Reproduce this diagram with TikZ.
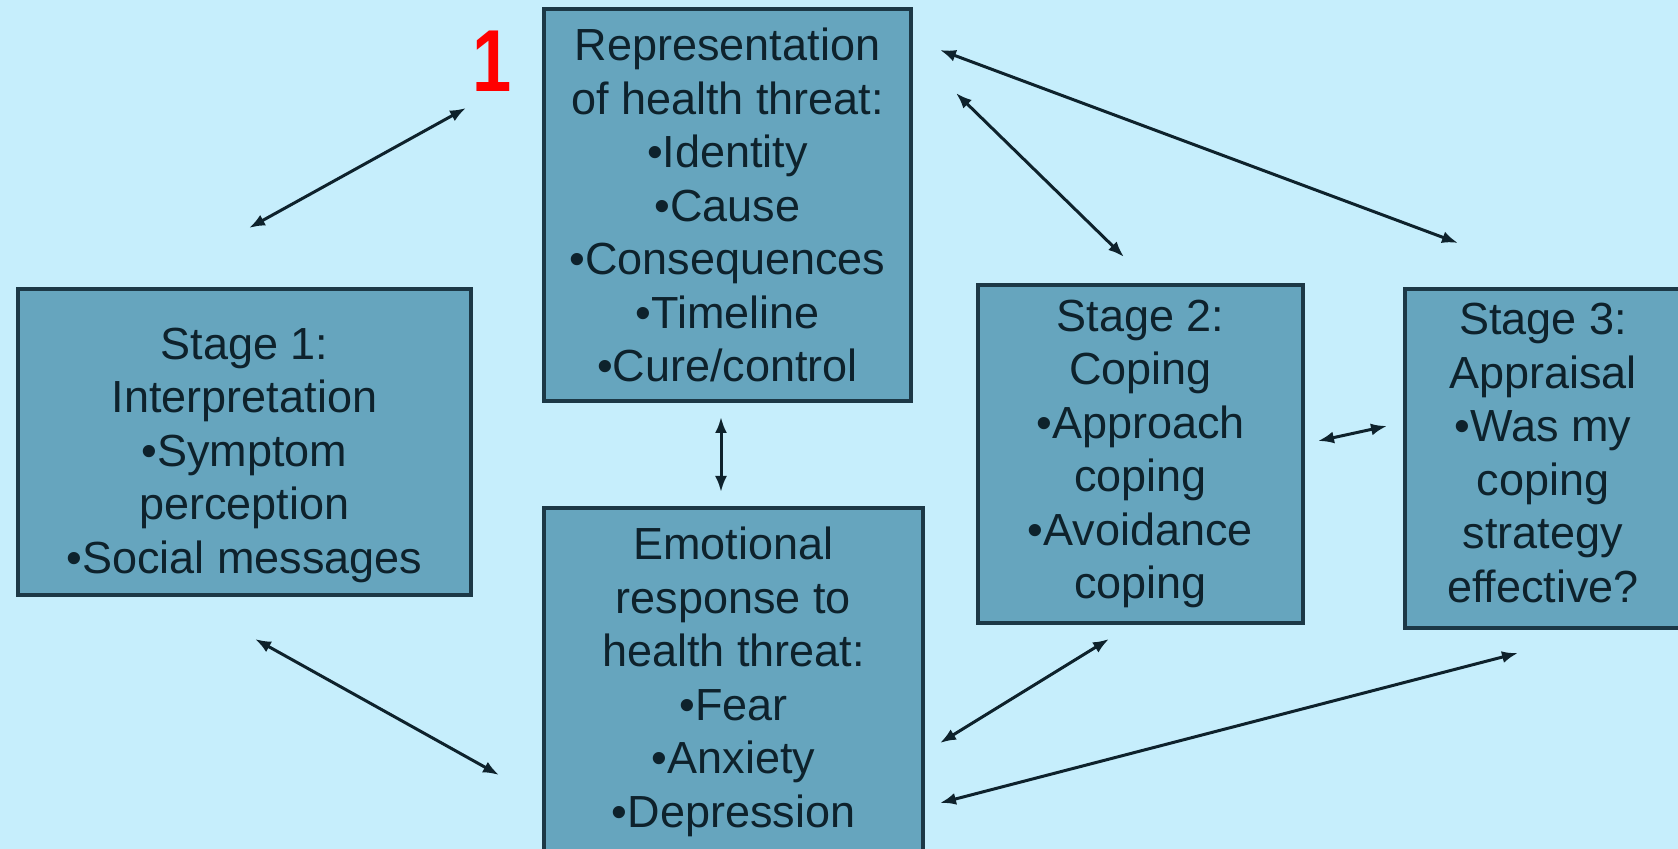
\documentclass[tikz,border=0pt]{standalone}
\usepackage{fontspec}
\setmainfont{Liberation Sans}
\usetikzlibrary{arrows.meta}
\definecolor{bgc}{RGB}{198,238,252}
\definecolor{boxc}{RGB}{102,165,190}
\definecolor{edgec}{RGB}{28,56,70}
\definecolor{txtc}{RGB}{14,34,44}
\tikzset{
  box/.style={draw=edgec, fill=boxc, line width=1.8pt, rectangle, inner sep=0pt,
    align=center, text=txtc, font=\fontsize{22.5pt}{26.75pt}\selectfont},
  boxtext/.style={inner sep=0pt, align=center, text=txtc, font=\fontsize{22.5pt}{26.75pt}\selectfont},
  link/.style={draw=txtc, line width=1.5pt, {Latex[length=8pt,width=6pt]}-{Latex[length=8pt,width=6pt]}}
}
\begin{document}
\begin{tikzpicture}[x=0.5pt,y=-0.5pt]
\fill[bgc] (0,0) rectangle (1678,849);
\useasboundingbox (0,0) rectangle (1678,849);

\node[box, minimum width=183.5pt, minimum height=196pt] (rep) at (727.5,205)
  {Representation\\of health threat:\\•Identity\\•Cause\\•Consequences\\•Timeline\\•Cure/control};
\node[box, minimum width=226.5pt, minimum height=153pt] (s1) at (244.5,442) {};
\node[boxtext] (s1t) at (244.5,455)
  {Stage 1:\\Interpretation\\•Symptom\\perception\\•Social messages};
\node[box, minimum width=189.5pt, minimum height=174pt] (emo) at (733.5,682)
  {Emotional\\response to\\health threat:\\•Fear\\•Anxiety\\•Depression};
\node[box, minimum width=162.5pt, minimum height=169pt] (s2) at (1140.5,454)
  {Stage 2:\\Coping\\•Approach\\coping\\•Avoidance\\coping};
\node[box, minimum width=140pt, minimum height=169.5pt] (s3) at (1545,458.5) {};
\node[boxtext] (s3t) at (1543,453)
  {Stage 3:\\Appraisal\\•Was my\\coping\\strategy\\effective?};

\node[text=red, font=\bfseries\fontsize{44pt}{44pt}\selectfont, inner sep=0pt, xscale=0.8] (num) at (492,61) {1};

\coordinate (a1) at (249,228); \coordinate (b1) at (466,108);
\coordinate (a2) at (940,50);  \coordinate (b2) at (1458,243);
\coordinate (a3) at (956,93);  \coordinate (b3) at (1124,257);
\coordinate (a4) at (721,417); \coordinate (b4) at (721,492);
\coordinate (a5) at (1318,441); \coordinate (b5) at (1387,426);
\coordinate (a6) at (255,639); \coordinate (b6) at (499,775);
\coordinate (a7) at (1109,639); \coordinate (b7) at (940,743);
\coordinate (a8) at (1518,653); \coordinate (b8) at (940,803);

\draw[link] (a1) -- (b1);
\draw[link] (a2) -- (b2);
\draw[link] (a3) -- (b3);
\draw[link] (a4) -- (b4);
\draw[link] (a5) -- (b5);
\draw[link] (a6) -- (b6);
\draw[link] (a7) -- (b7);
\draw[link] (a8) -- (b8);
\end{tikzpicture}
\end{document}
